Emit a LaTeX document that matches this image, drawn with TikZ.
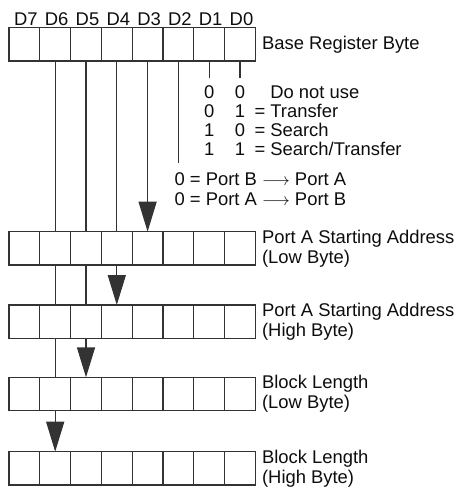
\documentclass[tikz,border=0pt]{standalone}
\usepackage{fontspec}
\setmainfont{Liberation Sans}
\usepackage{tikz}
\usetikzlibrary{arrows.meta,positioning}
\tikzset{
  reg/cell/.style={draw=black!80, line width=1.3pt, minimum width=30.8pt, minimum height=33.3pt, inner sep=0pt, outer sep=0pt},
  reg/bitname/.style={inner sep=0pt, text=black!95},
  reg/caption/.style={align=left, inner sep=0pt, text=black!95},
  reg/code/.style={inner sep=0pt, text height=13pt, text depth=0pt, text=black!95},
  reg/line/.style={draw=black!80, line width=1.3pt},
  reg/arrow/.style={reg/line, -{Triangle[length=30pt, width=18pt]}}
}

\begin{document}
\begin{tikzpicture}[
  x=1pt, y=-1pt,
  font=\fontsize{18.4}{20}\selectfont,
  node distance=6.5pt
]
\useasboundingbox (0,0) rectangle (458,490);

\foreach \r/\y in {1/44.35, 2/248.35, 3/321.65, 4/394, 5/468.35}
  \foreach \b in {0,...,7}
    \node[reg/cell] (r\r-\b) at ({24.4+(7-\b)*30.8}, \y) {};

\foreach \b in {0,...,7}
  \node[reg/bitname, above=2.2pt of r1-\b, xshift=1.5pt] (d\b) {D\b};

\node[reg/caption, right=of r1-0] (base) {Base Register Byte};
\node[reg/caption, right=of r2-0] (adrlo) {Port A Starting Address\\(Low Byte)};
\node[reg/caption, right=of r3-0] (adrhi) {Port A Starting Address\\(High Byte)};
\node[reg/caption, right=of r4-0] (lenlo) {Block Length\\(Low Byte)};
\node[reg/caption, right=of r5-0] (lenhi) {Block Length\\(High Byte)};

\node[reg/code, below=24.15pt of r1-1] (c1a) {0};
\node[reg/code, below=24.15pt of r1-0] (c1b) {0};
\node[reg/code, right=9pt of c1b] (m1) {\phantom{=} Do not use};
\node[reg/code, below=5.5pt of c1a] (c2a) {0};
\node[reg/code, below=5.5pt of c1b] (c2b) {1};
\node[reg/code, right=9pt of c2b] (m2) {= Transfer};
\node[reg/code, below=5.5pt of c2a] (c3a) {1};
\node[reg/code, below=5.5pt of c2b] (c3b) {0};
\node[reg/code, right=9pt of c3b] (m3) {= Search};
\node[reg/code, below=5.5pt of c3a] (c4a) {1};
\node[reg/code, below=5.5pt of c3b] (c4b) {1};
\node[reg/code, right=9pt of c4b] (m4) {= Search/Transfer};

\node[reg/caption, below=111.65pt of r1-2, anchor=north west, xshift=-4pt] (dir)
  {0 = Port B $\longrightarrow$ Port A\\0 = Port A $\longrightarrow$ Port B};

\draw[reg/line, shorten >=7pt] (r1-1) -- (c1a);
\draw[reg/line, shorten >=7pt] (r1-0) -- (c1b);
\draw[reg/line, shorten >=9.7pt] (r1-2) -- (r1-2 |- dir.north);

\foreach \b in {4,5,6} \draw[reg/line] (r1-\b) -- (r2-\b);
\draw[reg/arrow] (r1-3) -- (r2-3);
\foreach \b in {5,6} \draw[reg/line] (r2-\b) -- (r3-\b);
\draw[reg/arrow] (r2-4) -- (r3-4);
\draw[reg/line] (r3-6) -- (r4-6);
\draw[reg/arrow] (r3-5) -- (r4-5);
\draw[reg/arrow] (r4-6) -- (r5-6);

\end{tikzpicture}
\end{document}
